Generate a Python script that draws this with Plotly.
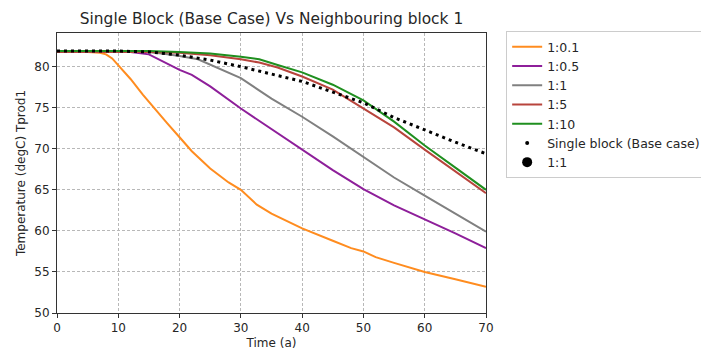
import plotly.graph_objects as go

# Production temperature over time for different block ratios
time_a = [0, 5, 7, 8, 9, 10, 12, 14, 16, 18, 20, 22, 25, 28, 30, 32.6, 35, 40, 45, 48, 50, 52, 55, 60, 65, 70]
t_1_0_1 = [81.8, 81.8, 81.7, 81.5, 81.0, 80.2, 78.5, 76.6, 74.8, 73.1, 71.4, 69.7, 67.6, 65.9, 65.0, 63.2, 62.1, 60.3, 58.8, 57.9, 57.5, 56.8, 56.1, 55.0, 54.1, 53.2]

time_b = [0, 10, 12, 15, 18, 20, 22, 25, 30, 35, 40, 45, 50, 55, 60, 65, 70]
t_1_0_5 = [81.8, 81.8, 81.8, 81.5, 80.4, 79.6, 79.0, 77.6, 74.9, 72.4, 69.9, 67.4, 65.1, 63.1, 61.4, 59.7, 57.9]

time_c = [0, 15, 18, 20, 23, 26, 30, 35, 40, 45, 50, 55, 60, 65, 70]
t_1_1 = [81.8, 81.8, 81.5, 81.3, 80.9, 79.9, 78.6, 76.1, 73.9, 71.5, 69.0, 66.5, 64.3, 62.1, 59.9]

time_d = [0, 15, 20, 25, 30, 33, 36, 40, 45, 50, 55, 60, 65, 70]
t_1_5 = [81.8, 81.8, 81.7, 81.4, 80.9, 80.5, 79.9, 78.8, 77.2, 74.9, 72.6, 69.9, 67.3, 64.6]
t_1_10 = [81.9, 81.9, 81.8, 81.6, 81.2, 80.9, 80.2, 79.3, 77.8, 75.9, 73.3, 70.4, 67.7, 65.0]

time_base = [0, 10, 15, 20, 25, 30, 35, 40, 45, 50, 55, 60, 65, 70]
t_base = [81.9, 81.9, 81.8, 81.4, 80.8, 80.0, 79.1, 78.2, 76.9, 75.6, 73.8, 72.3, 70.8, 69.4]

series = [
    ("1:0.1", time_a, t_1_0_1, "#ff8c1f"),
    ("1:0.5", time_b, t_1_0_5, "#8e1f9a"),
    ("1:1", time_c, t_1_1, "#808080"),
    ("1:5", time_d, t_1_5, "#b8443c"),
    ("1:10", time_d, t_1_10, "#1f8f1f"),
]

fig = go.Figure()
for name, x, y, color in series:
    fig.add_trace(go.Scatter(x=x, y=y, mode="lines", name=name,
                             line=dict(color=color, width=2)))

# Base case drawn as a dotted curve; legend entry shown as a single dot
fig.add_trace(go.Scatter(x=time_base, y=t_base, mode="lines", showlegend=False,
                         line=dict(color="black", width=3, dash="3px,4px")))
fig.add_trace(go.Scatter(x=[None], y=[None], mode="markers", name="Single block (Base case)",
                         marker=dict(color="black", size=4)))
fig.add_trace(go.Scatter(x=[None], y=[None], mode="markers", name="1:1",
                         marker=dict(color="black", size=10)))

axis_common = dict(showline=True, linecolor="#333333", linewidth=1, mirror=True,
                   ticks="outside", ticklen=4, tickcolor="#333333",
                   showgrid=True, gridcolor="#b8b8b8", griddash="3px,2px", gridwidth=1,
                   zeroline=False, tickfont=dict(size=12, color="#262626"))

fig.update_layout(
    width=701, height=351,
    margin=dict(l=57, r=215, t=33, b=38, autoexpand=False),
    paper_bgcolor="white", plot_bgcolor="white",
    font=dict(family="DejaVu Sans", size=12, color="#262626"),
    title=dict(text="Single Block (Base Case) Vs Neighbouring block 1",
               x=(57 + 486) / 2 / 701, xanchor="center", y=1 - 19 / 351, yanchor="middle",
               font=dict(size=15.4)),
    xaxis=dict(range=[0, 70], dtick=10,
               title=dict(text="Time (a)", font=dict(size=12), standoff=4), **axis_common),
    yaxis=dict(range=[50, 84.1], tickvals=[50, 55, 60, 65, 70, 75, 80],
               title=dict(text="Temperature (degC) Tprod1", font=dict(size=12), standoff=6),
               **axis_common),
    legend=dict(x=1.047, y=1.0 + 2 / 280, xanchor="left", yanchor="top",
                bordercolor="#cccccc", borderwidth=1, bgcolor="white",
                font=dict(size=12.5), tracegroupgap=0),
    showlegend=True,
)

fig.write_html("out.html")
